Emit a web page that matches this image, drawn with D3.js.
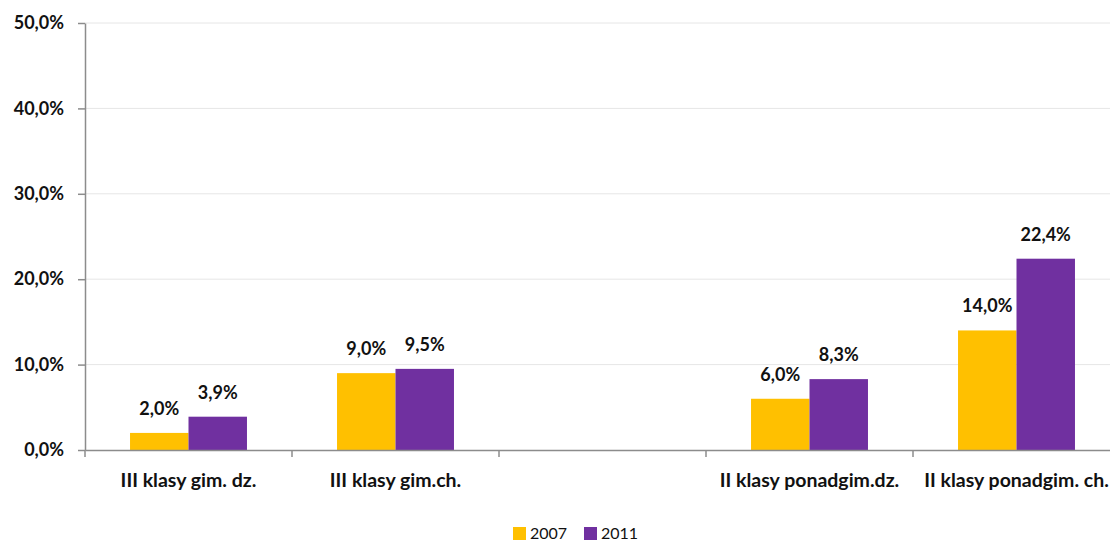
<!DOCTYPE html>
<html>
<head>
<meta charset="utf-8">
<script src="https://cdn.jsdelivr.net/npm/d3@7"></script>
<style>
  body { margin: 0; background: #fff; overflow: hidden; }
  text { font-family: Lato, "Open Sans", sans-serif; }
</style>
</head>
<body>
<div id="graph"></div>
<script>
// data
const categories = ["III klasy gim. dz.", "III klasy gim.ch.", "", "II klasy ponadgim.dz.", "II klasy ponadgim. ch."];
const series = ["2007", "2011"];
const values2007 = [2.0, 9.0, null, 6.0, 14.0];
const values2011 = [3.9, 9.5, null, 8.3, 22.4];
const yTicks = [0, 10, 20, 30, 40, 50];
const colors = ["#FFC000", "#7030A0"];

const svgWidth = 1110;
const svgHeight = 545;

const margin = { top: 23, left: 85 };
const width = 1035; // plot runs a bit past the right edge, like the original
const height = 427;

const fmt = v => v.toFixed(1).replace(".", ",") + "%";

const svg = d3.select('#graph')
  .append('svg')
  .attr('width', svgWidth)
  .attr('height', svgHeight)
  .append('g')
  .attr('transform', `translate(${margin.left}, ${margin.top})`);

// x scale (categories, keyed by index so the blank slot is kept)
const x = d3.scaleBand()
  .domain(d3.range(categories.length))
  .range([0, width]);

const x1 = d3.scaleBand()
  .domain(series)
  .range([0, x.bandwidth()])
  .paddingOuter(0.77)
  .paddingInner(0);

const y = d3.scaleLinear()
  .domain([0, 50])
  .range([height, 0]);

// gridlines
svg.selectAll('.grid')
  .data(yTicks.slice(1))
  .enter()
  .append('line')
  .attr('x1', 0)
  .attr('x2', width)
  .attr('y1', d => y(d))
  .attr('y2', d => y(d))
  .attr('stroke', '#e6e6e6')
  .attr('stroke-width', 1);

// bars
const table = [values2007, values2011];
series.forEach((s, si) => {
  const rows = table[si].map((v, i) => ({ i, v })).filter(d => d.v != null);

  svg.selectAll('.bar' + si)
    .data(rows)
    .enter()
    .append('rect')
    .attr('x', d => x(d.i) + x1(s))
    .attr('y', d => y(d.v))
    .attr('width', x1.bandwidth())
    .attr('height', d => height - y(d.v))
    .attr('fill', colors[si]);

  svg.selectAll('.lab' + si)
    .data(rows)
    .enter()
    .append('text')
    .attr('x', d => x(d.i) + x1(s) + x1.bandwidth() / 2)
    .attr('y', d => y(d.v) - 18)
    .attr('text-anchor', 'middle')
    .attr('font-size', '18px')
    .attr('font-weight', 'bold')
    .attr('fill', '#111')
    .text(d => fmt(d.v));
});

// y axis
const yAxis = svg.append('g')
  .call(d3.axisLeft(y).tickValues(yTicks).tickFormat(fmt).tickSize(7).tickSizeOuter(0));
yAxis.select('.domain').attr('stroke', '#8c8c8c').attr('stroke-width', 1.5);
yAxis.selectAll('.tick line').attr('stroke', '#8c8c8c').attr('stroke-width', 1.5);
yAxis.selectAll('text')
  .attr('x', -21)
  .attr('font-size', '18px')
  .attr('font-weight', 'bold')
  .attr('fill', '#111')
  .style('font-family', 'Lato, sans-serif');

// x axis
const xAxis = svg.append('g')
  .attr('transform', `translate(0,${height})`)
  .call(d3.axisBottom(x).tickFormat(i => categories[i]).tickSize(0).tickSizeOuter(0));
xAxis.select('.domain').attr('stroke', '#8c8c8c').attr('stroke-width', 1.5);
xAxis.selectAll('text')
  .attr('dy', 0)
  .attr('y', 37)
  .attr('font-size', '19.5px')
  .attr('font-weight', 'bold')
  .attr('fill', '#111')
  .style('font-family', 'Lato, sans-serif');

// category separators
svg.append('g')
  .selectAll('line')
  .data(d3.range(categories.length + 1))
  .enter()
  .append('line')
  .attr('x1', i => i * x.step())
  .attr('x2', i => i * x.step())
  .attr('y1', height)
  .attr('y2', height + 7)
  .attr('stroke', '#8c8c8c')
  .attr('stroke-width', 1.5);

// legend
const legend = d3.select('svg').append('g')
  .attr('transform', 'translate(513, 527)');
const legendX = [0, 71];
series.forEach((s, si) => {
  legend.append('rect')
    .attr('x', legendX[si])
    .attr('y', 0)
    .attr('width', 13)
    .attr('height', 13)
    .attr('fill', colors[si]);
  legend.append('text')
    .attr('x', legendX[si] + 17)
    .attr('y', 12)
    .attr('font-size', '16px')
    .attr('fill', '#111')
    .text(s);
});
</script>
</body>
</html>
